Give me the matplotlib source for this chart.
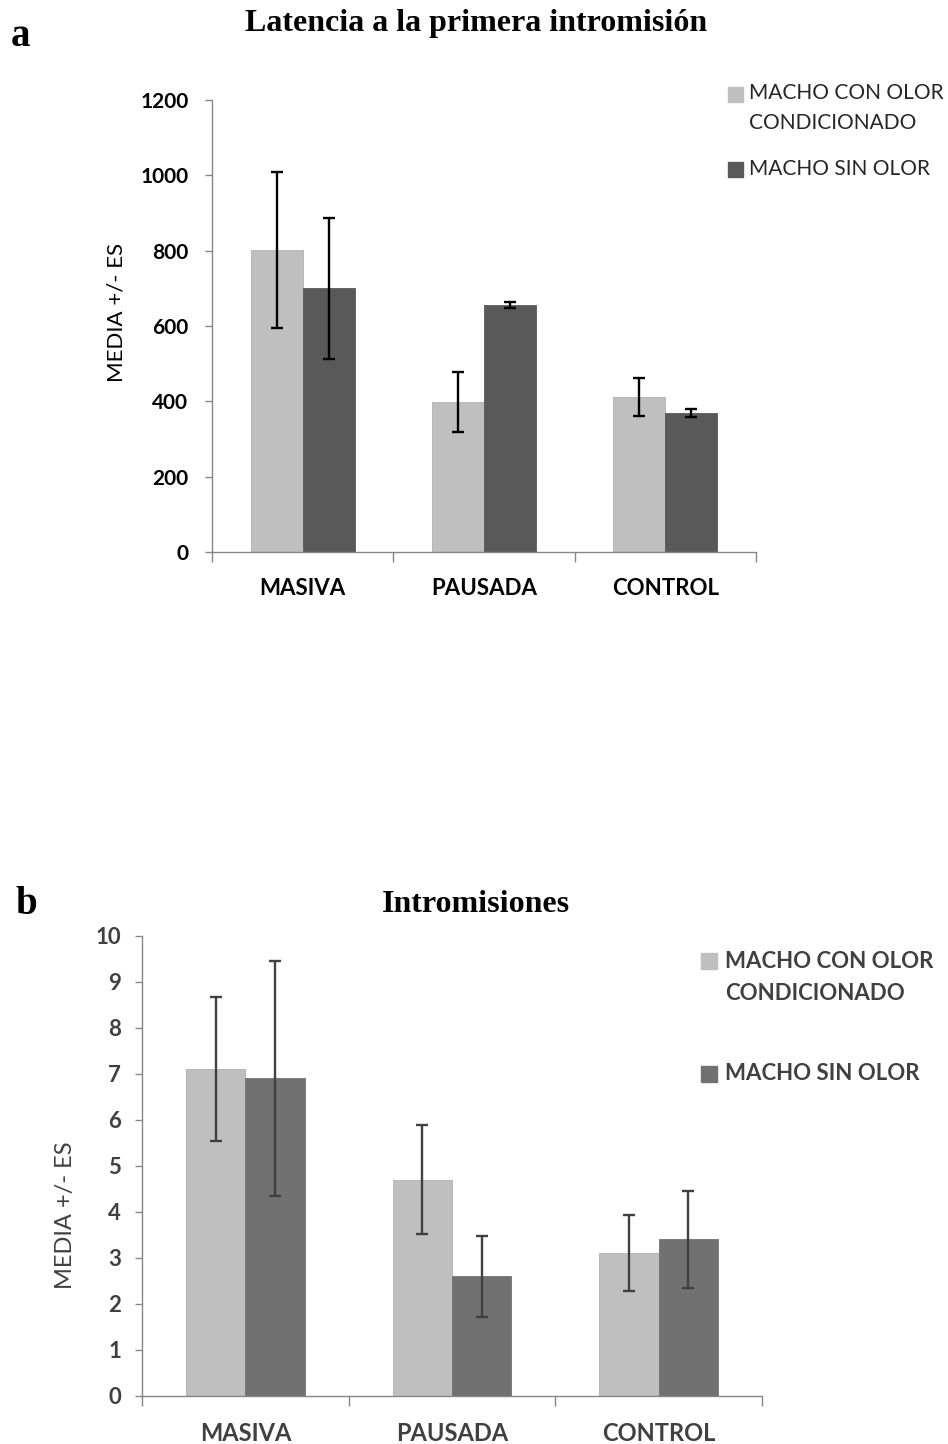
import numpy as np
import matplotlib
matplotlib.use('Agg')
import matplotlib.pyplot as plt
from matplotlib.patches import Rectangle

plt.rcParams['font.family'] = ['Lato', 'DejaVu Sans']

# datos
grupos = ['MASIVA', 'PAUSADA', 'CONTROL']
series = ['MACHO CON OLOR', 'CONDICIONADO', 'MACHO SIN OLOR']

latencia_con = [802, 398, 411]
latencia_con_es = [208, 80, 50]
latencia_sin = [700, 655, 369]
latencia_sin_es = [187, 8, 10]

intro_con = [7.1, 4.7, 3.1]
intro_con_es = [1.57, 1.18, 0.82]
intro_sin = [6.9, 2.6, 3.4]
intro_sin_es = [2.55, 0.88, 1.05]

W, H = 948, 1444
fig = plt.figure(figsize=(W / 100, H / 100), dpi=100)


def panel(rect, con, con_es, sin, sin_es, ymax, ystep, c_osc, c_txt, c_err,
          ytick_fs, ytick_pad, xtick_fs, ylab_fs, ylab_xy):
    ax = fig.add_axes(rect)
    x = np.arange(len(grupos))
    w = 0.287
    ax.bar(x - w / 2, con, w, color='#bfbfbf', edgecolor='#b0b0b0', linewidth=0.6, zorder=2)
    ax.bar(x + w / 2, sin, w, color=c_osc, edgecolor=c_osc, linewidth=0.6, zorder=2)
    ax.errorbar(x - w / 2, con, yerr=con_es, fmt='none', ecolor=c_err, elinewidth=1.7,
                capsize=4, capthick=1.7, zorder=3)
    ax.errorbar(x + w / 2, sin, yerr=sin_es, fmt='none', ecolor=c_err, elinewidth=1.7,
                capsize=4, capthick=1.7, zorder=3)
    ax.set_xlim(-0.5, len(grupos) - 0.5)
    ax.set_ylim(0, ymax)
    ax.set_yticks(np.arange(0, ymax + ystep / 2, ystep))
    ax.set_xticks(x)
    ax.set_xticklabels(grupos)
    ax.set_xticks(np.arange(-0.5, len(grupos), 1), minor=True)
    for s in ['top', 'right']:
        ax.spines[s].set_visible(False)
    for s in ['left', 'bottom']:
        ax.spines[s].set_color('#868686')
        ax.spines[s].set_linewidth(1.0)
    ax.tick_params(axis='y', colors='#868686', length=5, width=1.0, labelcolor=c_txt,
                   labelsize=ytick_fs, pad=ytick_pad)
    ax.tick_params(axis='x', which='major', length=0, labelcolor=c_txt, labelsize=xtick_fs, pad=19)
    ax.tick_params(axis='x', which='minor', colors='#868686', length=7, width=1.0)
    for t in ax.get_xticklabels() + ax.get_yticklabels():
        t.set_fontweight('bold')
    ax.set_ylabel('MEDIA +/- ES', fontsize=ylab_fs, color=c_txt)
    ax.yaxis.set_label_coords(*ylab_xy)
    return ax


ax1 = panel([0.2236, 0.6177, 0.5738, 0.3130], latencia_con, latencia_con_es,
            latencia_sin, latencia_sin_es, 1200, 200, '#595959', 'black', 'black',
            15, 12, 16, 16, (-0.158, 0.531))
ax2 = panel([0.1498, 0.0335, 0.6540, 0.3184], intro_con, intro_con_es,
            intro_sin, intro_sin_es, 10, 1, '#717171', '#404040', '#404040',
            16, 10, 17, 17, (-0.106, 0.393))

fig.text(476 / W, 1 - 23 / H, 'Latencia a la primera intromisión', family='Liberation Serif',
         fontweight='bold', fontsize=23, ha='center', va='center')
fig.text(21 / W, 1 - 37 / H, 'a', family='Liberation Serif', fontweight='bold', fontsize=28,
         ha='center', va='center')
fig.text(476 / W, 1 - 905 / H, 'Intromisiones', family='Liberation Serif',
         fontweight='bold', fontsize=23, ha='center', va='center')
fig.text(26 / W, 1 - 905 / H, 'b', family='Liberation Serif', fontweight='bold', fontsize=28,
         ha='center', va='center')


# leyendas dibujadas a mano: (x cuadro, y cuadro 1, y cuadro 2, x texto, y lineas)
def leyenda(xc, yc1, yc2, lado, xt, ylineas, colores, fs, peso, ctxt):
    for yc, col in zip([yc1, yc2], colores):
        fig.patches.append(Rectangle((xc / W, 1 - (yc + lado) / H), lado / W, lado / H,
                                     transform=fig.transFigure, color=col))
    for txt, yl in zip(series, ylineas):
        fig.text(xt / W, 1 - yl / H, txt, fontsize=fs, fontweight=peso, color=ctxt,
                 ha='left', va='center')


leyenda(728, 87, 162, 15, 749, [93, 123, 169], ['#bfbfbf', '#595959'], 15, 'normal', '#262626')
leyenda(701, 953, 1066, 16, 725, [962, 993, 1074], ['#bfbfbf', '#717171'], 16, 'bold', '#404040')

fig.savefig('out.png', dpi=100)
